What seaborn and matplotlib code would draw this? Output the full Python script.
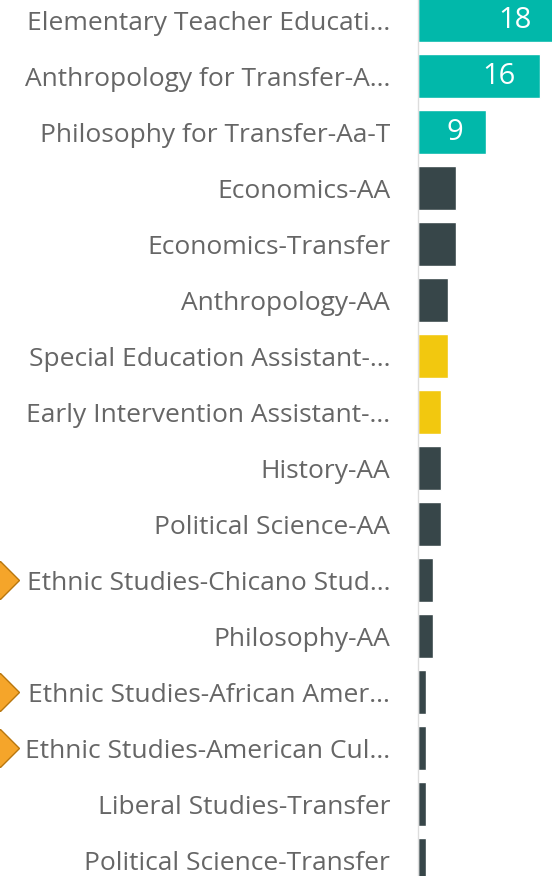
import matplotlib
matplotlib.use("Agg")
import matplotlib.pyplot as plt
import matplotlib.transforms as mtransforms
import seaborn as sns
import pandas as pd

# Data
programs = [
    "Elementary Teacher Educati...",
    "Anthropology for Transfer-A...",
    "Philosophy for Transfer-Aa-T",
    "Economics-AA",
    "Economics-Transfer",
    "Anthropology-AA",
    "Special Education Assistant-...",
    "Early Intervention Assistant-...",
    "History-AA",
    "Political Science-AA",
    "Ethnic Studies-Chicano Stud...",
    "Philosophy-AA",
    "Ethnic Studies-African Amer...",
    "Ethnic Studies-American Cul...",
    "Liberal Studies-Transfer",
    "Political Science-Transfer",
]
counts = [18, 16, 9, 5, 5, 4, 4, 3, 3, 3, 2, 2, 1, 1, 1, 1]
groups = ["top", "top", "top", "other", "other", "other", "ece", "ece",
          "other", "other", "other", "other", "other", "other", "other", "other"]
labelled = [True, True, True] + [False] * 13
flagged = ["Ethnic Studies-Chicano Stud...",
           "Ethnic Studies-African Amer...",
           "Ethnic Studies-American Cul..."]

group_colors = {"top": "#01B8AA", "other": "#374649", "ece": "#F2C80F"}

df = pd.DataFrame({"program": programs, "count": counts, "group": groups})

sns.set_theme(style="white")
plt.rcParams["font.family"] = ["Open Sans", "DejaVu Sans"]

W, H = 552, 876
fig = plt.figure(figsize=(W / 100, H / 100), dpi=100)
fig.patch.set_facecolor("white")

# axes: zero line at x=418px, first row centre at 20px, pitch 56px
x0 = 418
unit = 7.6
pitch = 56.0
ax = fig.add_axes([x0 / W, 0, (W - x0) / W, 1])

sns.barplot(data=df, x="count", y="program", hue="group", palette=group_colors,
            dodge=False, legend=False, width=0.77, ax=ax, saturation=1)

ax.set_xlim(0, (W - x0) / unit)
top = -20 / pitch
bottom = top + H / pitch
ax.set_ylim(bottom, top)

for s in ["top", "right", "bottom"]:
    ax.spines[s].set_visible(False)
ax.spines["left"].set_color("#DDDDDD")
ax.spines["left"].set_linewidth(1.0)

ax.set_xlabel("")
ax.set_ylabel("")
ax.set_xticks([])
ax.tick_params(axis="y", length=0, pad=20, labelsize=19, labelcolor="#666666")

# data labels inside bar end
for i, (v, show) in enumerate(zip(counts, labelled)):
    if show:
        ax.annotate(str(v), xy=(v, i), xytext=(-17, 0), textcoords="offset points",
                    ha="right", va="center", color="white", fontsize=21,
                    annotation_clip=False)

# orange flag diamonds at the left edge
trans = mtransforms.blended_transform_factory(fig.transFigure, ax.transData)
flag_y = [programs.index(p) for p in flagged]
ax.plot([0] * len(flag_y), flag_y, linestyle="none", marker="D", markersize=19,
        markerfacecolor="#F5A52A", markeredgecolor="#B8770E", markeredgewidth=1,
        transform=trans, clip_on=False)

fig.savefig("out.png", dpi=100, facecolor="white")
